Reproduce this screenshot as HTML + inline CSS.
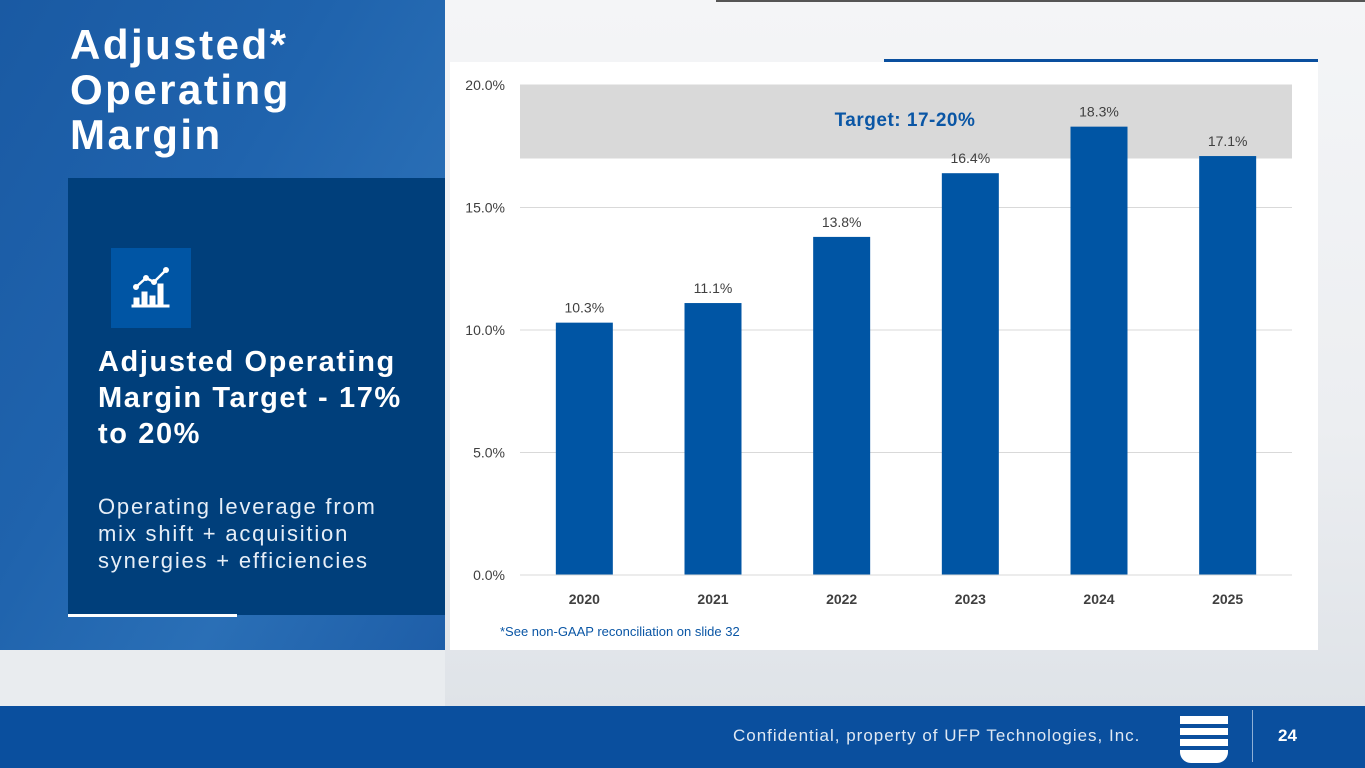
<!DOCTYPE html>
<html><head><meta charset="utf-8"><style>
*{margin:0;padding:0;box-sizing:border-box}
body{width:1365px;height:768px;overflow:hidden;position:relative;background:#e9ecef;font-family:"Liberation Sans",sans-serif}
.bgr{position:absolute;left:445px;top:0;width:920px;height:706px;background:linear-gradient(180deg,#f4f5f7 0%,#eceef1 60%,#dfe3e8 100%)}
.left{position:absolute;left:0;top:0;width:445px;height:650px;background:linear-gradient(120deg,#1a5aa3 0%,#1f63ad 40%,#2a6fb6 70%,#1e5ea8 100%)}
.title{position:absolute;left:70px;top:22px;color:#fff;font-size:42px;line-height:45px;font-weight:bold;letter-spacing:2.5px}
.box{position:absolute;left:68px;top:178px;width:377px;height:437px;background:#003f7b}
.icon{position:absolute;left:111px;top:248px;width:80px;height:80px;background:#0055a4}
.h2{position:absolute;left:98px;top:344px;color:#fff;font-size:29px;line-height:36px;font-weight:bold;letter-spacing:1.6px;white-space:nowrap}
.p{position:absolute;left:98px;top:493px;color:#e6eef7;font-size:22px;line-height:27px;letter-spacing:1.8px;white-space:nowrap}
.uline{position:absolute;left:68px;top:614px;width:169px;height:3px;background:#fff}
.card{position:absolute;left:450px;top:62px;width:868px;height:588px;background:#fff}
.topline{position:absolute;left:884px;top:59px;width:434px;height:3px;background:#0a4f9e}
.topdark{position:absolute;left:716px;top:0;width:649px;height:2px;background:#555}
.footer{position:absolute;left:0;top:706px;width:1365px;height:62px;background:#0a4f9e}
.ft{position:absolute;left:733px;top:726px;color:#dfe8f3;font-size:17px;letter-spacing:1px;white-space:nowrap}
.num{position:absolute;left:1278px;top:726px;color:#fff;font-size:17px;font-weight:bold}
.vsep{position:absolute;left:1252px;top:710px;width:1px;height:52px;background:#8fb0d6}
</style></head><body>
<div class="bgr"></div>
<div class="topdark"></div>
<div class="left"></div>
<div class="title">Adjusted*<br>Operating<br>Margin</div>
<div class="box"></div>
<div class="icon">
<svg width="80" height="80" viewBox="0 0 80 80"><g fill="#fff" stroke="#fff"><rect x="23" y="50" width="5" height="8"/><rect x="31" y="44" width="5" height="14"/><rect x="39" y="48" width="5" height="10"/><rect x="47" y="36" width="5" height="22"/><rect x="21" y="57" width="37" height="2"/><polyline points="25,39 35,30 43,34 54,23" fill="none" stroke-width="2.5"/><circle cx="25" cy="39" r="2.5"/><circle cx="35" cy="30" r="2.5"/><circle cx="43" cy="34" r="2.5"/><circle cx="55" cy="22" r="2.5"/></g></svg></div>
<div class="h2">Adjusted Operating<br>Margin Target - 17%<br>to 20%</div>
<div class="p">Operating leverage from<br>mix shift + acquisition<br>synergies + efficiencies</div>
<div class="uline"></div>
<div class="card"></div>
<div class="topline"></div>
<svg id="chart" style="position:absolute;left:0;top:0" width="1365" height="706"></svg>
<div class="footer"></div>
<div class="ft">Confidential, property of UFP Technologies, Inc.</div>
<svg style="position:absolute;left:1179px;top:715px" width="50" height="48" viewBox="0 0 50 48"><path d="M1 1h48v8H1zM1 13h48v7H1zM1 24h48v7H1zM1 35h48v2c0 6-5 11-11 11H12C6 48 1 43 1 37z" fill="#fff"/></svg>
<div class="vsep"></div>
<div class="num">24</div>
<script>
const categories=["2020","2021","2022","2023","2024","2025"];
const values=[10.3,11.1,13.8,16.4,18.3,17.1];
const labels=["10.3%","11.1%","13.8%","16.4%","18.3%","17.1%"];
const ticks=[0,5,10,15,20];
const targetBand=[17,20];
const NS="http://www.w3.org/2000/svg";
const svg=document.getElementById('chart');
const x0=520,x1=1292,yTop=85,yBot=575,vmax=20;
const y=v=>yBot-(v/vmax)*(yBot-yTop);
const step=(x1-x0)/categories.length;
const xc=i=>x0+step*(i+0.5);
function mk(t,a){const e=document.createElementNS(NS,t);for(const k in a)e.setAttribute(k,a[k]);svg.appendChild(e);return e;}
ticks.forEach(t=>{
 const l=mk('line',{x1:x0,x2:x1,y1:y(t),y2:y(t),stroke:'#d9d9d9','stroke-width':1});
 
 
 const tx=mk('text',{x:505,y:y(t)+5,'text-anchor':'end','font-size':14,fill:'#404040','font-family':'Liberation Sans'});
 tx.textContent=t.toFixed(1)+'%';
 
 
});
const band=mk('rect',{x:x0,y:y(targetBand[1]),width:x1-x0,height:y(targetBand[0])-y(targetBand[1]),fill:'#d9d9d9'});


const bt=mk('text',{x:905,y:126,'text-anchor':'middle','font-size':19,'font-weight':'bold',fill:'#0a56a5','font-family':'Liberation Sans','letter-spacing':'0.5'});
bt.textContent='Target: 17-20%';


const bw=57;
values.forEach((v,i)=>{
 const r=mk('rect',{x:xc(i)-bw/2,y:y(v),width:bw,height:yBot-y(v),fill:'#0055a4'});
 
 
 const t=mk('text',{x:xc(i),y:y(v)-10,'text-anchor':'middle','font-size':14,fill:'#404040','font-family':'Liberation Sans'});
 t.textContent=labels[i];
 
 
 const c=mk('text',{x:xc(i),y:604,'text-anchor':'middle','font-size':14,'font-weight':'bold',fill:'#404040','font-family':'Liberation Sans'});
 c.textContent=categories[i];
 
 
});
const ax=mk('line',{x1:x0,x2:x1,y1:yBot,y2:yBot,stroke:'#d9d9d9','stroke-width':1});


const fn=mk('text',{x:500,y:636,'font-size':13,fill:'#0a56a5','font-family':'Liberation Sans'});
fn.textContent='*See non-GAAP reconciliation on slide 32';


</script>
</body></html>
